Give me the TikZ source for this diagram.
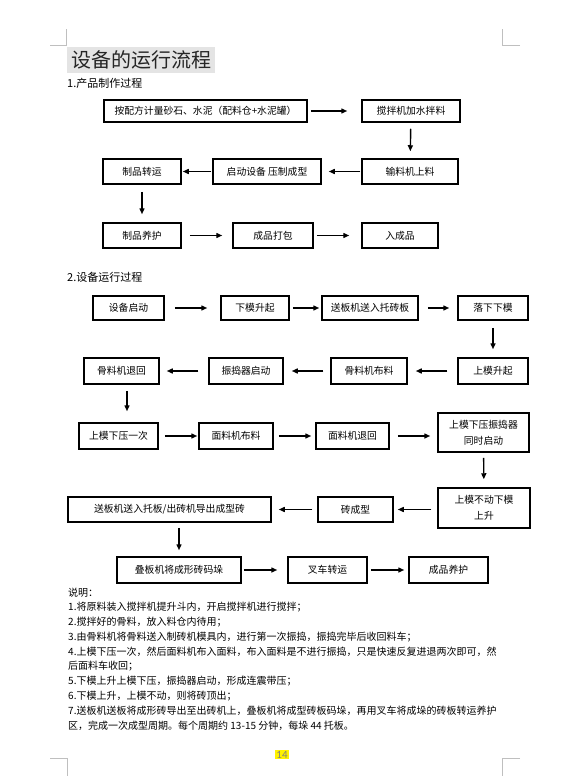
\documentclass[tikz,border=0pt]{standalone}
\usepackage{fontspec}
\setmainfont{Noto Sans CJK SC}
\newfontfamily\numfont{Carlito}
\usetikzlibrary{arrows.meta}
\definecolor{titlegray}{RGB}{228,228,228}
\definecolor{markgray}{RGB}{191,191,191}
\definecolor{pagegray}{RGB}{128,128,128}

\begin{document}
\begin{tikzpicture}[x=1pt, y=-1pt, >={Triangle[length=6pt,width=5pt]},
  box/.style={draw, line width=1.5pt, inner sep=1pt, align=center, font=\fontsize{9.8}{16}\selectfont},
  wh/.style 2 args={minimum width=#1pt, minimum height=#2pt},
  flow/.style={->, line width=1.4pt},
  note/.style={anchor=west, inner sep=0pt, font=\fontsize{10}{12}\selectfont},
  head/.style={anchor=west, inner sep=0pt, font=\fontsize{11}{13}\selectfont}]
  \useasboundingbox (0,0) rectangle (571,784);

  % Corner marks
  \draw[markgray, line width=0.8pt] (50,45) -- (66,45) -- (66,29);
  \draw[markgray, line width=0.8pt] (520,45) -- (502,45) -- (502,29);
  \draw[markgray, line width=0.8pt] (50,758) -- (67,758) -- (67,776);
  \draw[markgray, line width=0.8pt] (520,758) -- (502,758) -- (502,776);

  % Title and headings
  \node[fill=titlegray, text=black!85, inner sep=0pt, wh={148}{26}, font=\fontsize{20}{22}\selectfont] (title) at (141,60) {设备的运行流程};
  \node[head] (sec1) at (67,83) {1.产品制作过程};
  \node[head] (sec2) at (67,277) {2.设备运行过程};

  % Product process
  \node[box, wh={203}{22}] (a1) at (205.5,111) {按配方计量砂石、水泥（配料仓+水泥罐）};
  \node[box, wh={98}{22}] (a2) at (411,111) {搅拌机加水拌料};
  \node[box, wh={96}{25}] (a3) at (410,171.5) {输料机上料};
  \node[box, wh={108}{25}] (a4) at (267,171.5) {启动设备\ 压制成型};
  \node[box, wh={78}{25}] (a5) at (142,171.5) {制品转运};
  \node[box, wh={78}{25}] (a6) at (142,235.5) {制品养护};
  \node[box, wh={80}{25}] (a7) at (273,235.5) {成品打包};
  \node[box, wh={76}{25}] (a8) at (400,235.5) {入成品};

  \draw[flow, shorten <=3pt, shorten >=14pt] (a1) -- (a2);
  \draw[flow, shorten <=6pt, shorten >=7pt] (a2) -- (a3);
  \draw[flow, shorten <=1pt, shorten >=7pt] (a3) -- (a4);
  \draw[flow, shorten <=1pt, shorten >=1pt] (a4) -- (a5);
  \draw[flow, shorten <=7pt, shorten >=8pt] (a5) -- (a6);
  \draw[flow, shorten <=8pt, shorten >=10pt] (a6) -- (a7);
  \draw[flow, shorten <=3pt, shorten >=12pt] (a7) -- (a8);

  % Machine process
  \node[box, wh={71}{24}] (b1) at (128.5,308) {设备启动};
  \node[box, wh={68}{24}] (b2) at (255,308) {下模升起};
  \node[box, wh={96}{24}] (b3) at (370,308) {送板机送入托砖板};
  \node[box, wh={70}{24}] (b4) at (493,308) {落下下模};
  \node[box, wh={70}{26}] (b5) at (493,371) {上模升起};
  \node[box, wh={76}{26}] (b6) at (369,371) {骨料机布料};
  \node[box, wh={74}{26}] (b7) at (246,371) {振捣器启动};
  \node[box, wh={75}{26}] (b8) at (121.5,371) {骨料机退回};
  \node[box, wh={79}{26}] (b9) at (118.5,436) {上模下压一次};
  \node[box, wh={74}{26}] (b10) at (236,436) {面料机布料};
  \node[box, wh={73}{26}] (b11) at (352.5,436) {面料机退回};
  \node[box, wh={91}{39}] (b12) at (483.5,432.5) {上模下压振捣器\\同时启动};
  \node[box, wh={92}{40}] (b13) at (484,508) {上模不动下模\\上升};
  \node[box, wh={75}{25}] (b14) at (355.5,509.5) {砖成型};
  \node[box, wh={203}{25}] (b15) at (169.5,509.5) {送板机送入托板/出砖机导出成型砖};
  \node[box, wh={124}{26}] (b16) at (179,570) {叠板机将成形砖码垛};
  \node[box, wh={79}{26}] (b17) at (327.5,570) {叉车转运};
  \node[box, wh={79}{26}] (b18) at (448.5,570) {成品养护};

  \draw[flow, shorten <=10pt, shorten >=13pt] (b1) -- (b2);
  \draw[flow, shorten <=3pt, shorten >=2pt] (b2) -- (b3);
  \draw[flow, shorten <=9pt, shorten >=8pt] (b3) -- (b4);
  \draw[flow, shorten <=7pt, shorten >=8pt] (b4) -- (b5);
  \draw[flow, shorten <=10pt, shorten >=8pt] (b5) -- (b6);
  \draw[flow, shorten <=7pt, shorten >=8pt] (b6) -- (b7);
  \draw[flow, shorten <=10pt, shorten >=7pt] (b7) -- (b8);
  \draw[flow, shorten <=6pt, shorten >=11pt] ([xshift=5.5pt]b8.south) -- ([xshift=5.5pt]b8.south |- b9.north);
  \draw[flow, shorten <=6pt, shorten >=1pt] (b9) -- (b10);
  \draw[flow, shorten <=5pt, shorten >=4pt] (b10) -- (b11);
  \draw[flow, shorten <=8pt, shorten >=7pt] (b11) -- (b11 -| b12.west);
  \draw[flow, shorten <=5pt, shorten >=8pt] (b12) -- (b13);
  \draw[flow, shorten <=6pt, shorten >=4pt] (b13.west |- b14) -- (b14);
  \draw[flow, shorten <=5pt, shorten >=7pt] (b14) -- (b15);
  \draw[flow, shorten <=5pt, shorten >=6pt] (b15.south -| b16) -- (b16);
  \draw[flow, shorten <=2pt, shorten >=10pt] (b16) -- (b17);
  \draw[flow, shorten <=3pt, shorten >=4pt] (b17) -- (b18);

  % Notes
  \foreach \txt [count=\i from 0] in {
      {说明：},
      {1.将原料装入搅拌机提升斗内，开启搅拌机进行搅拌；},
      {2.搅拌好的骨料，放入料仓内待用；},
      {3.由骨料机将骨料送入制砖机模具内，进行第一次振捣，振捣完毕后收回料车；},
      {4.上模下压一次，然后面料机布入面料，布入面料是不进行振捣，只是快速反复进退两次即可，然},
      {后面料车收回；},
      {5.下模上升上模下压，振捣器启动，形成连震带压；},
      {6.下模上升，上模不动，则将砖顶出；},
      {7.送板机送板将成形砖导出至出砖机上，叠板机将成型砖板码垛，再用叉车将成垛的砖板转运养护},
      {区，完成一次成型周期。每个周期约 13-15 分钟，每垛 44 托板。}}
    \node[note] (note\i) at (68,592.5+14.8*\i) {\txt};

  % Page number
  \node[fill=yellow, text=pagegray, inner sep=1pt, font=\numfont\fontsize{11}{12}\selectfont] (pageno) at (282,754.5) {14};
\end{tikzpicture}
\end{document}
